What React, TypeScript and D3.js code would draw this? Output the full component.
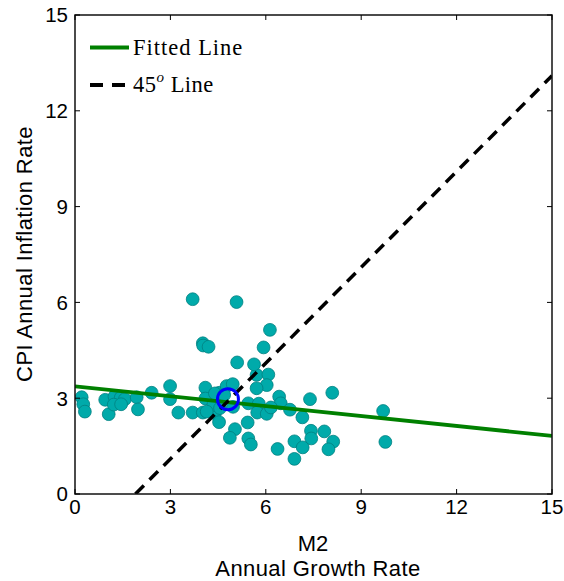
import React from "react";
import * as d3 from "d3";

const m2Growth = [0.21,0.26,0.31,0.95,1.06,1.24,1.44,1.57,1.22,1.45,1.94,1.98,2.41,2.99,2.99,3.25,3.70,4.02,4.10,4.10,4.40,4.53,4.54,4.77,4.96,4.35,5.71,6.08,6.03,5.71,5.03,4.87,5.43,5.45,5.53,5.45,5.78,5.73,6.03,6.42,6.47,6.16,6.76,6.37,6.90,6.90,7.15,7.39,8.09,9.69,9.76,7.42,7.43,7.84,7.16,8.12,7.97,3.70,5.08,4.02,4.03,4.20,6.13,5.93,5.10,5.63,4.40,4.56,4.97,4.14,4.69];
const cpiInflation = [3.03,2.81,2.58,2.95,2.50,3.05,3.02,2.97,2.80,2.81,3.03,2.65,3.17,3.38,2.97,2.55,2.55,2.55,3.33,2.99,2.53,2.25,3.17,3.38,3.44,2.79,3.73,3.74,3.41,3.31,2.03,1.76,2.24,1.74,1.55,2.84,2.83,2.55,2.51,3.05,2.84,2.71,2.64,1.41,1.65,1.10,2.40,2.97,3.17,2.60,1.63,1.98,1.74,1.96,1.46,1.64,1.40,6.10,6.01,4.72,4.65,4.61,5.14,4.59,4.12,4.06,3.15,2.69,2.73,2.58,3.10];
const fittedX = [0, 15];
const fittedY = [3.37, 1.82];
const line45X = [1.9, 15];
const line45Y = [0, 13.1];
const meanPoint = [4.81, 2.97];
const xTicks = [0, 3, 6, 9, 12, 15];
const yTicks = [0, 3, 6, 9, 12, 15];

export default function App() {
  const L = 75, R = 552, T = 15, B = 494;
  const x = d3.scaleLinear().domain([0, 15]).range([L, R]);
  const y = d3.scaleLinear().domain([0, 15]).range([B, T]);
  const line = d3.line<[number, number]>().x(d => x(d[0])).y(d => y(d[1]));
  const fitted = line(fittedX.map((v, i) => [v, fittedY[i]] as [number, number]))!;
  const l45 = line(line45X.map((v, i) => [v, line45Y[i]] as [number, number]))!;
  const sans = "Liberation Sans, Arial, sans-serif";
  const serif = "Liberation Serif, Times New Roman, serif";
  return (
    <svg width={564} height={581} style={{ position: "absolute", left: 0, top: 0 }}>
      <rect x={0} y={0} width={564} height={581} fill="#fff" />
      <defs>
        <clipPath id="plot"><rect x={L} y={T} width={R - L} height={B - T} /></clipPath>
      </defs>
      <g clipPath="url(#plot)">
        {m2Growth.map((v, i) => (
          <circle key={i} cx={x(v)} cy={y(cpiInflation[i])} r={6.4} fill="#00AAAA" stroke="#008080" strokeWidth={0.8} />
        ))}
        <path d={fitted} stroke="#008000" strokeWidth={3.8} fill="none" />
        <path d={l45} stroke="#000" strokeWidth={3.5} strokeDasharray="12,8" fill="none" />
        <circle cx={x(meanPoint[0])} cy={y(meanPoint[1])} r={10.5} fill="none" stroke="#0000FF" strokeWidth={3} />
      </g>
      <rect x={L} y={T} width={R - L} height={B - T} fill="none" stroke="#111" strokeWidth={1.5} />
      {xTicks.map(t => (
        <g key={"x" + t}>
          <line x1={x(t)} x2={x(t)} y1={B} y2={B - 5} stroke="#000" />
          <line x1={x(t)} x2={x(t)} y1={T} y2={T + 5} stroke="#000" />
          <text x={x(t)} y={514} textAnchor="middle" fontFamily={sans} fontSize={20.5}>{t}</text>
        </g>
      ))}
      {yTicks.map(t => (
        <g key={"y" + t}>
          <line x1={L} x2={L + 5} y1={y(t)} y2={y(t)} stroke="#000" />
          <line x1={R} x2={R - 5} y1={y(t)} y2={y(t)} stroke="#000" />
          <text x={68} y={y(t) + 7.3} textAnchor="end" fontFamily={sans} fontSize={20.5}>{t}</text>
        </g>
      ))}
      <text x={313} y={551} textAnchor="middle" fontFamily={sans} fontSize={22}>M2</text>
      <text x={318} y={576} textAnchor="middle" fontFamily={sans} fontSize={22} letterSpacing={0.4}>Annual Growth Rate</text>
      <text transform={`translate(32,254) rotate(-90)`} textAnchor="middle" fontFamily={sans} fontSize={22} letterSpacing={0.4}>CPI Annual Inflation Rate</text>
      <line x1={90} x2={129} y1={47.5} y2={47.5} stroke="#008000" strokeWidth={3.8} />
      <text x={133} y={55} fontFamily={serif} fontSize={22.5} letterSpacing={1}>Fitted Line</text>
      <line x1={90} x2={125} y1={85} y2={85} stroke="#000" strokeWidth={3.8} strokeDasharray="13,9" />
      <text x={133} y={92} fontFamily={serif} fontSize={22.5} letterSpacing={0.5}>45<tspan dy={-10} fontSize={15} fontStyle="italic">o</tspan><tspan dy={10}> Line</tspan></text>
    </svg>
  );
}
